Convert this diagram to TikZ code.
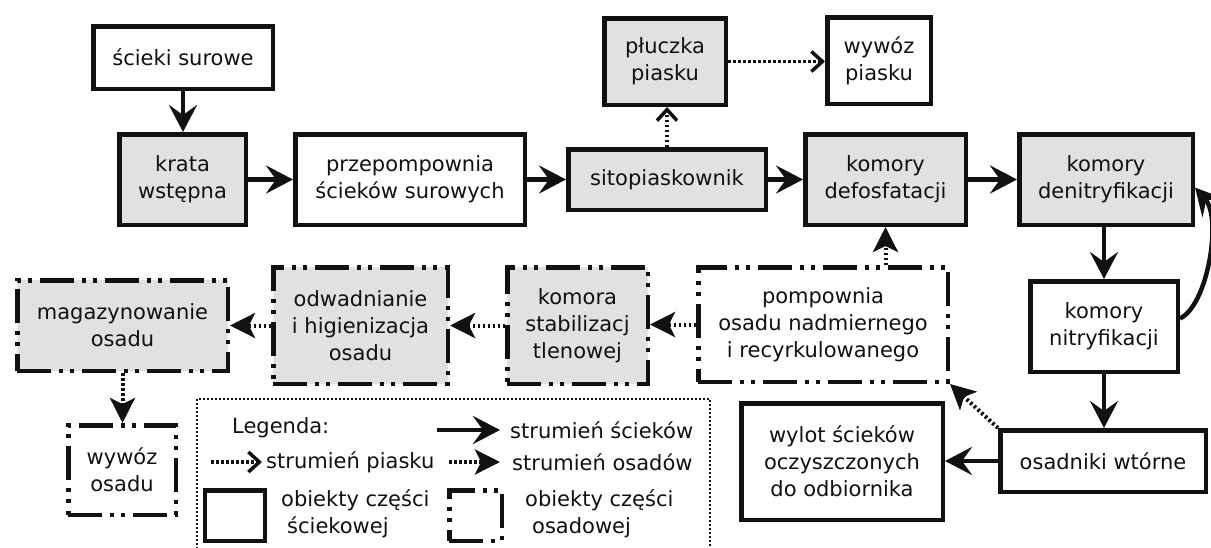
\documentclass[tikz,border=0pt]{standalone}
\usepackage{fontspec}
\setmainfont{DejaVu Sans}
\usetikzlibrary{arrows.meta}
\definecolor{boxgray}{RGB}{225,225,225}
\definecolor{ink}{RGB}{17,17,17}
\begin{document}
\begin{tikzpicture}[x=1pt,y=-1pt,
  txt/.style={font=\fontsize{21}{27}\selectfont, text=ink, align=center, inner sep=0pt},
  sz/.style n args={2}{minimum width=#1, minimum height=#2},
  wbox/.style={txt, draw=ink, line width=4.5pt, fill=white},
  gbox/.style={wbox, fill=boxgray},
  dashdot/.style={dash pattern=on 34pt off 8pt on 4pt off 7pt on 4pt off 8pt},
  wsl/.style={txt, draw=ink, line width=4.5pt, dashdot, fill=white},
  gsl/.style={wsl, fill=boxgray},
  flow/.style={draw=ink, line width=4.5pt, -{Stealth[length=27pt,width=28pt,inset=10pt]}},
  sand/.style={draw=ink, line width=3.5pt, dash pattern=on 2.5pt off 2.5pt,
    -{Straight Barb[length=11pt,width=20pt,line width=3.5pt]}},
  sludge/.style={draw=ink, line width=4pt, dash pattern=on 2.5pt off 2.5pt,
    -{Stealth[length=25pt,width=25pt,inset=6pt]}},
  legtxt/.style={txt, anchor=west, align=left},
]
\clip (0,0) rectangle (1211,547);
\fill[white] (0,0) rectangle (1211,547);

% wastewater line
\node[wbox, sz={179.5}{62.5}] (raw) at (183,57.5) {ścieki surowe};
\node[gbox, sz={126.5}{90.5}] (krata) at (182.5,179.5) {krata\\wstępna};
\node[wbox, sz={229.5}{90.5}] (przep) at (410,179.5) {przepompownia\\ścieków surowych};
\node[gbox, sz={197.5}{60.5}] (sito) at (667,179.5) {sitopiaskownik};
\node[gbox, sz={121.5}{86.5}] (pluczka) at (665,61.5) {płuczka\\piasku};
\node[wbox, sz={103.5}{86.5}] (wpiasek) at (879,60.5) {wywóz\\piasku};
\node[gbox, sz={160.5}{90.5}] (defosf) at (885.5,179.5) {komory\\defosfatacji};
\node[gbox, sz={173.5}{90.5}] (denitr) at (1106,179.5) {komory\\denitryfikacji};
\node[wbox, sz={147.5}{90.5}] (nitr) at (1104,326.5) {komory\\nitryfikacji};
\node[wbox, sz={205.5}{61.5}] (osadn) at (1103,461) {osadniki wtórne};
\node[wbox, sz={201.5}{116.5}] (wylot) at (842,461.5) {wylot ścieków\\oczyszczonych\\do odbiornika};

% sludge line
\node[wsl, sz={249.5}{114.5}] (pomp) at (823,324.5) {pompownia\\osadu nadmiernego\\i recyrkulowanego};
\node[gsl, sz={140.5}{116.5}] (stab) at (577.5,325.5) {komora\\stabilizacj\\tlenowej};
\node[gsl, sz={174.5}{116.5}] (odw) at (360.5,325.5) {odwadnianie\\i higienizacja\\osadu};
\node[gsl, sz={210.5}{90.5}] (mag) at (122.5,325.5) {magazynowanie\\osadu};
\node[wsl, sz={107.5}{89.5}] (wosad) at (122,470) {wywóz\\osadu};

% wastewater flows
\draw[flow] (raw.south) -- (raw.south |- krata.north);
\draw[flow] (krata) -- (przep);
\draw[flow] (przep) -- (sito);
\draw[flow] (sito) -- (defosf);
\draw[flow] (defosf) -- (denitr);
\draw[flow] (nitr.north |- denitr.south) -- (nitr.north);
\draw[flow] (nitr.south) -- (nitr.south |- osadn.north);
\draw[flow] (osadn.west) -- (osadn.west -| wylot.east);
\draw[flow] ([yshift=8pt]nitr.east) .. controls (1208,305) and (1222,218) .. ([yshift=-8pt]denitr.east);

% sand flows
\draw[sand] (sito.north) -- (sito.north |- pluczka.south);
\draw[sand] (pluczka.east) -- (pluczka.east -| wpiasek.west);

% sludge flows
\draw[sludge] (osadn.north west) -- (pomp.south east);
\draw[sludge] (pomp.north -| defosf.south) -- (defosf.south);
\draw[sludge] (pomp.west) -- (pomp.west -| stab.east);
\draw[sludge] (stab.west) -- (stab.west -| odw.east);
\draw[sludge] (odw.west) -- (odw.west -| mag.east);
\draw[sludge] (mag.south) -- (mag.south |- wosad.north);

% legend
\draw[ink, line width=1.8pt, dash pattern=on 2pt off 2pt] (197,399) rectangle (710,560);
\node[legtxt] (lgtitle) at (232,428) {Legenda:};
\coordinate (la1) at (437,430);
\coordinate (lb1) at (500,430);
\draw[flow] (la1) -- (lb1);
\node[legtxt] (lt1) at (510,430) {strumień ścieków};
\coordinate (la2) at (211,462);
\coordinate (lb2) at (262,462);
\draw[sand] (la2) -- (lb2);
\node[legtxt] (lt2) at (266,462) {strumień piasku};
\coordinate (la3) at (449,462);
\coordinate (lb3) at (500,462);
\draw[sludge] (la3) -- (lb3);
\node[legtxt] (lt3) at (512,462) {strumień osadów};
\node[wbox, sz={60}{50.5}] (lsq1) at (235,515.5) {};
\node[legtxt] (lt4) at (281,513.5) {obiekty części\\\hspace*{6pt}ściekowej};
\node[wsl, sz={52.5}{50.5}] (lsq2) at (475.5,515.5) {};
\node[legtxt] (lt5) at (525,513.5) {obiekty części\\\hspace*{7pt}osadowej};
\end{tikzpicture}
\end{document}
